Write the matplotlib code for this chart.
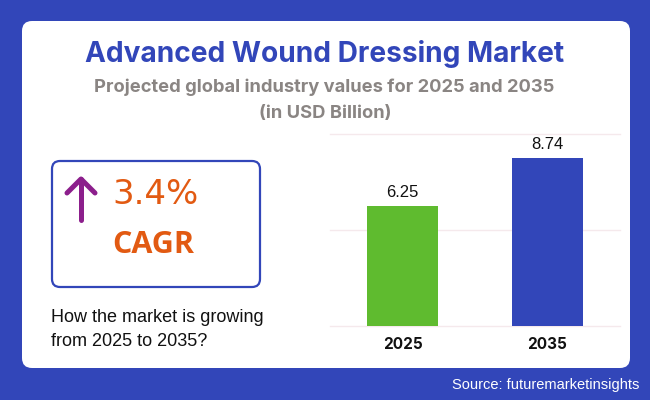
import matplotlib
matplotlib.use("Agg")
import matplotlib.pyplot as plt
from matplotlib.patches import FancyBboxPatch

W, H = 650, 400

years = ["2025", "2035"]
values = [6.25, 8.74]
bar_colors = ["#5FBB2F", "#3246B9"]
y_ticks = [0, 5, 10]

BLUE = "#3246B9"
ORANGE = "#E25A12"
PURPLE = "#8C1F8C"
HEAD = ["Inter", "DejaVu Sans"]

plt.rcParams["font.family"] = ["Liberation Sans", "DejaVu Sans"]

fig = plt.figure(figsize=(W / 100, H / 100), dpi=100, facecolor=BLUE)

# full-figure axes in pixel coords for the card and the texts
bg = fig.add_axes([0, 0, 1, 1])
bg.set_xlim(0, W)
bg.set_ylim(H, 0)
bg.axis("off")

bg.add_patch(FancyBboxPatch((22 + 10, 21 + 10), 608 - 20, 347 - 20,
                            boxstyle="round,pad=10,rounding_size=10",
                            facecolor="white", edgecolor="none"))

bg.text(325, 54, "Advanced Wound Dressing Market", ha="center", va="center",
        fontsize=20.2, fontweight="bold", color=BLUE, family=HEAD)
bg.text(324, 87, "Projected global industry values for 2025 and 2035", ha="center",
        va="center", fontsize=13.2, fontweight="bold", color="#8A8583", family=HEAD)
bg.text(325, 113, "(in USD Billion)", ha="center", va="center", fontsize=13.2,
        fontweight="bold", color="#8A8583", family=HEAD)

# CAGR box
bg.add_patch(FancyBboxPatch((52 + 8, 161 + 8), 208 - 16, 126 - 16,
                            boxstyle="round,pad=8,rounding_size=8",
                            facecolor="white", edgecolor=BLUE, linewidth=1.6))
bg.plot([81, 81], [220, 179], color=PURPLE, lw=3.6, solid_capstyle="round")
bg.plot([67, 81, 95], [193, 179, 193], color=PURPLE, lw=3.6,
        solid_capstyle="round", solid_joinstyle="round")
bg.text(112, 195, "3.4%", ha="left", va="center", fontsize=24.5, color=ORANGE,
        family=["DejaVu Sans"])
bg.text(112, 245, "CAGR", ha="left", va="center", fontsize=22, fontweight="bold",
        color=ORANGE, family=["Open Sans", "DejaVu Sans"])

bg.text(51, 317, "How the market is growing", ha="left", va="center", fontsize=13, color="#111111")
bg.text(51, 342, "from 2025 to 2035?", ha="left", va="center", fontsize=13, color="#111111")

bg.text(639, 385, "Source: futuremarketinsights", ha="right", va="center",
        fontsize=10.5, color="white")

# bar chart
ax = fig.add_axes([330 / W, 1 - 326 / H, 290 / W, 192 / H])
ax.patch.set_alpha(0)
x = range(len(years))
ax.bar(x, values, width=0.483, color=bar_colors, zorder=3)
for i, v in zip(x, values):
    ax.text(i, v + 0.3, f"{v:.2f}", ha="center", va="bottom", fontsize=12, color="#111111")

ax.set_xlim(-0.5, 1.5)
ax.set_ylim(0, 10)
ax.set_yticks(y_ticks)
ax.set_yticklabels([])
ax.set_xticks(list(x))
ax.set_xticklabels(years, fontsize=11, fontweight="bold", color="#111111", family=HEAD)
ax.tick_params(length=0, pad=8)
ax.grid(axis="y", color="#F5E9EC", lw=1, zorder=0)
for line in ax.get_ygridlines():
    line.set_clip_on(False)
for s in ax.spines.values():
    s.set_visible(False)

fig.savefig("out.png", dpi=100, facecolor=BLUE)
